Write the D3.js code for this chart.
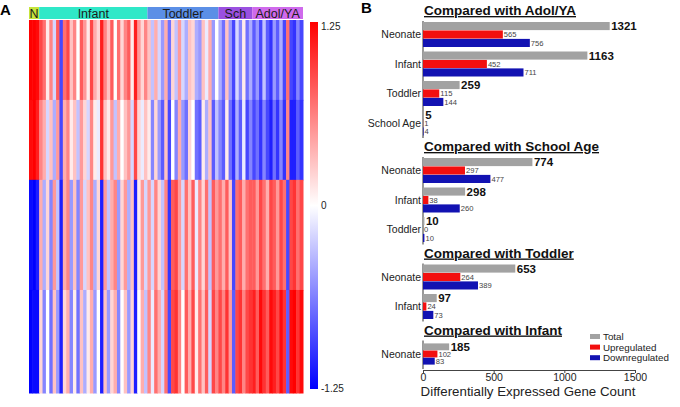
<!DOCTYPE html>
<html>
<head>
<meta charset="utf-8">
<script src="https://cdn.jsdelivr.net/npm/d3@7"></script>
<style>
  body { margin: 0; background: #fff; }
  svg { font-family: "Liberation Sans", Arial, sans-serif; }
</style>
</head>
<body>
<svg id="chart" width="680" height="407"></svg>
<script>
// ---------- panel A: heatmap (column means per row block)
const groups = ["N", "Infant", "Toddler", "Sch", "Adol/YA"];
const groupSamples = [3, 32, 21, 10, 15];
const groupColors = ["#c6e43c", "#2fe8c8", "#5b8fe6", "#9a50e0", "#cf6aec"];
const rowBands = ["up-a", "up-b", "down-a", "down-b"];
const rowBandGenes = [180, 180, 248, 232];

const upTop = [
  1.25, 1.25, 1.2,
  0.9, 0.7, 0.1, 0.6, -0.2, 0.8, -0.9, 0.7, 0.9, 0.3, 0.6, 0.0, 0.8, 0.5, 0.1, 0.9,
  0.4, 0.2, 1.1, 0.6, 0.3, 0.8, 0.0, 0.7, 0.2, 0.6, 0.8, 0.1, 1.1, 0.5, 0.2, 0.6,
  0.3, -0.3, 0.4, -0.2, -0.5, 0.4, -0.7, 0.2, -0.3, 0.5, -0.2, -0.4, 0.3, 0.2, -0.4, -0.5, 0.3, -0.1, 0.4, -0.5, 0.0,
  -0.4, -0.7, 0.3, -0.5, -0.9, -0.2, -0.6, 0.1, -0.7, -0.4,
  -0.8, -0.5, -0.9, -0.3, -0.8, -1.0, -0.5, -0.8, -0.4, -0.9, 0.7, -0.9, -1.0, -0.6, -0.9
];
const upBottom = [
  1.2, 1.25, 1.1,
  0.6, 0.4, -0.2, 0.3, -0.4, 0.5, -0.9, 0.4, 0.6, 0.1, 0.3, -0.3, 0.5, 0.2, -0.2, 0.6,
  0.1, -0.1, 1.0, 0.3, 0.1, 0.5, -0.3, 0.4, 0.0, 0.3, 0.5, -0.2, 0.9, 0.2, -0.1, 0.3,
  0.1, -0.6, 0.2, -0.5, -0.8, 0.3, -0.9, 0.0, -0.6, 0.4, -0.5, -0.7, 0.2, 0.0, -0.7, -0.8, 0.1, -0.4, 0.3, -0.8, -0.3,
  -0.6, -0.8, 0.1, -0.7, -1.0, -0.4, -0.8, -0.1, -0.9, -0.6,
  -0.9, -0.7, -1.0, -0.6, -0.9, -1.1, -0.7, -1.0, -0.6, -1.0, 0.6, -1.1, -1.1, -0.8, -1.0
];
const downTop = [
  -1.2, -1.25, -1.1,
  0.4, -0.4, 0.2, -0.6, 0.5, -0.3, -1.1, 0.4, 0.6, -0.5, 0.3, -0.6, 0.5, -0.2, 0.3, 0.6,
  -0.4, 0.2, -1.1, 0.5, -0.3, 0.4, 0.6, -0.5, 0.2, 0.5, -0.4, 0.3, -1.1, 0.1, 0.5, -0.2,
  0.5, -0.2, 0.6, 0.2, -0.3, 0.6, -1.0, 0.8, 0.9, 0.5, -0.2, 0.7, 0.3, 0.8, -0.1, 0.6, 0.2, 0.7, -0.3, 0.8, 0.5,
  0.7, 0.4, 0.8, 0.3, -0.9, 0.7, 0.8, 0.4, 0.7, 0.8,
  0.8, 0.5, 0.9, 0.7, 0.4, 0.9, 0.8, 0.5, 0.9, 0.7, -0.9, 0.9, 1.0, 0.7, 0.9
];
const downBottom = [
  -1.25, -1.2, -1.2,
  0.2, -0.6, 0.0, -0.7, 0.3, -0.5, -1.1, 0.2, 0.4, -0.6, 0.1, -0.7, 0.3, -0.4, 0.1, 0.4,
  -0.5, 0.0, -1.1, 0.3, -0.5, 0.2, 0.4, -0.6, 0.0, 0.3, -0.5, 0.2, -1.1, 0.0, 0.4, -0.3,
  0.6, -0.1, 0.7, 0.4, -0.2, 0.7, -0.9, 0.9, 1.0, 0.6, 0.0, 0.8, 0.4, 0.9, 0.1, 0.7, 0.3, 0.8, -0.2, 0.9, 0.6,
  0.9, 0.6, 1.0, 0.5, -0.8, 0.9, 1.0, 0.6, 0.9, 1.0,
  1.1, 0.8, 1.2, 1.0, 0.8, 1.2, 1.1, 0.9, 1.2, 1.0, -0.8, 1.2, 1.25, 1.0, 1.2
];
const colorTicks = [1.25, 0, -1.25];

// ---------- panel B: DE gene counts
const series = ["Total", "Upregulated", "Downregulated"];
const seriesColors = ["#a2a2a2", "#f20f0f", "#1212b2"];
const comparisons = ["Compared with Adol/YA", "Compared with School Age", "Compared with Toddler", "Compared with Infant"];
const compGroups = [["Neonate", "Infant", "Toddler", "School Age"], ["Neonate", "Infant", "Toddler"], ["Neonate", "Infant"], ["Neonate"]];
const totalCounts = [[1321, 1163, 259, 5], [774, 298, 10], [653, 97], [185]];
const upCounts = [[565, 452, 115, 1], [297, 38, 0], [264, 24], [102]];
const downCounts = [[756, 711, 144, 4], [477, 260, 10], [389, 73], [83]];
const xTicks = [0, 500, 1000, 1500];

const svg = d3.select("#chart");

// ===== A =====
svg.append("text").attr("x", 0).attr("y", 15)
  .style("font-size", "15px").style("font-weight", "bold").text("A");

const samples = [];
groups.forEach((g, gi) => { for (let k = 0; k < groupSamples[gi]; k++) samples.push(g + "_" + k); });

const hx = d3.scaleBand().domain(samples).range([29, 303]);
const totalGenes = d3.sum(rowBandGenes);
const hy = d3.scaleLinear().domain([0, totalGenes]).range([20, 393]);
const color = d3.scaleLinear().domain([-1.25, 0, 1.25])
  .range(["#0000ff", "#ffffff", "#ff0000"]).clamp(true);

const bandStarts = d3.cumsum([0].concat(rowBandGenes));
const bandRows = [upTop, upBottom, downTop, downBottom];

const heat = svg.append("g");
rowBands.forEach((b, bi) => {
  heat.append("g").selectAll("rect")
    .data(bandRows[bi])
    .join("rect")
      .attr("x", (d, i) => hx(samples[i]))
      .attr("y", hy(bandStarts[bi]))
      .attr("width", hx.bandwidth() + 0.5)
      .attr("height", hy(bandStarts[bi + 1]) - hy(bandStarts[bi]) + 0.5)
      .attr("fill", d => color(d));
});

// group header
let si = 0;
const header = svg.append("g");
groups.forEach((g, gi) => {
  const x0 = hx(samples[si]);
  const x1 = hx(samples[si + groupSamples[gi] - 1]) + hx.bandwidth();
  si += groupSamples[gi];
  header.append("rect").attr("x", x0).attr("y", 7).attr("width", x1 - x0).attr("height", 12)
    .attr("fill", groupColors[gi]);
  header.append("text").attr("x", (x0 + x1) / 2).attr("y", 17.5)
    .attr("text-anchor", "middle").style("font-size", "12.5px").attr("fill", "#1a1a1a").text(g);
});

// colour bar
const grad = svg.append("defs").append("linearGradient")
  .attr("id", "cbar").attr("x1", 0).attr("x2", 0).attr("y1", 0).attr("y2", 1);
d3.range(0, 1.0001, 0.1).forEach(t => {
  grad.append("stop").attr("offset", t).attr("stop-color", color(1.25 - 2.5 * t));
});
const cb = d3.scaleLinear().domain([1.25, -1.25]).range([22, 389]);
svg.append("rect").attr("x", 310).attr("y", cb(1.25)).attr("width", 8)
  .attr("height", cb(-1.25) - cb(1.25)).attr("fill", "url(#cbar)");
svg.append("g").selectAll("text").data(colorTicks).join("text")
  .attr("x", 321).attr("y", d => Math.min(Math.max(cb(d), 26), 388))
  .attr("dy", "0.35em").style("font-size", "10px").attr("fill", "#222")
  .text(d => d);

// ===== B =====
svg.append("text").attr("x", 361).attr("y", 13)
  .style("font-size", "15px").style("font-weight", "bold").text("B");

const bx = d3.scaleLinear().domain([0, 1500]).range([423, 635]);
const step = 29.5, gapIn = 4.5, gapSection = 18;
let secTop = 22;

comparisons.forEach((title, ci) => {
  const cats = compGroups[ci];
  const by = d3.scaleBand().domain(cats)
    .range([secTop, secTop + cats.length * step - gapIn])
    .paddingInner(gapIn / step).paddingOuter(0);
  const sub = d3.scaleBand().domain(series).range([0, by.bandwidth()]).paddingInner(0.04);
  const g = svg.append("g");

  g.append("text").attr("x", 424).attr("y", secTop - 7)
    .style("font-size", "13.5px").style("font-weight", "bold")
    .style("text-decoration", "underline").attr("fill", "#111").text(title);

  g.append("line").attr("x1", bx(0)).attr("x2", bx(0))
    .attr("y1", secTop - 1).attr("y2", secTop + cats.length * step - 2)
    .attr("stroke", "#333").attr("stroke-width", 1);

  cats.forEach((c, i) => {
    const vals = [totalCounts[ci][i], upCounts[ci][i], downCounts[ci][i]];
    g.append("text").attr("x", 421).attr("y", by(c) + by.bandwidth() / 2)
      .attr("dy", "0.35em").attr("text-anchor", "end")
      .style("font-size", "10.5px").attr("fill", "#222").text(c);
    series.forEach((s, k) => {
      const y0 = by(c) + sub(s);
      g.append("rect").attr("x", bx(0)).attr("y", y0)
        .attr("width", bx(vals[k]) - bx(0)).attr("height", sub.bandwidth())
        .attr("fill", seriesColors[k]);
      g.append("text").attr("x", bx(vals[k]) + (k === 0 ? 1.5 : 1))
        .attr("y", y0 + sub.bandwidth() / 2).attr("dy", "0.36em")
        .style("font-size", k === 0 ? "11.5px" : "7.6px")
        .style("font-weight", k === 0 ? "bold" : "normal")
        .attr("fill", k === 0 ? "#111" : "#444")
        .text(vals[k]);
    });
  });

  secTop += cats.length * step + gapSection;
});

// x axis
const ax = svg.append("g").attr("transform", "translate(0,370)")
  .call(d3.axisBottom(bx).tickValues(xTicks).tickFormat(d3.format("d"))
    .tickSize(3).tickSizeOuter(0).tickPadding(1));
ax.select(".domain").attr("stroke", "#444");
ax.selectAll(".tick line").attr("stroke", "#444");
ax.selectAll(".tick text").style("font-size", "10.5px").attr("fill", "#222")
  .style("font-family", "'Liberation Sans', Arial, sans-serif");

svg.append("text").attr("x", 528).attr("y", 395.5).attr("text-anchor", "middle")
  .style("font-size", "13.3px").attr("fill", "#222").text("Differentially Expressed Gene Count");

// legend
const lg = svg.append("g").attr("transform", "translate(590,336.5)");
series.forEach((s, k) => {
  lg.append("rect").attr("x", 0).attr("y", k * 10.6 - 2.5).attr("width", 10).attr("height", 5)
    .attr("fill", seriesColors[k]);
  lg.append("text").attr("x", 13).attr("y", k * 10.6).attr("dy", "0.35em")
    .style("font-size", "9.8px").attr("fill", "#222").text(s);
});
</script>
</body>
</html>
